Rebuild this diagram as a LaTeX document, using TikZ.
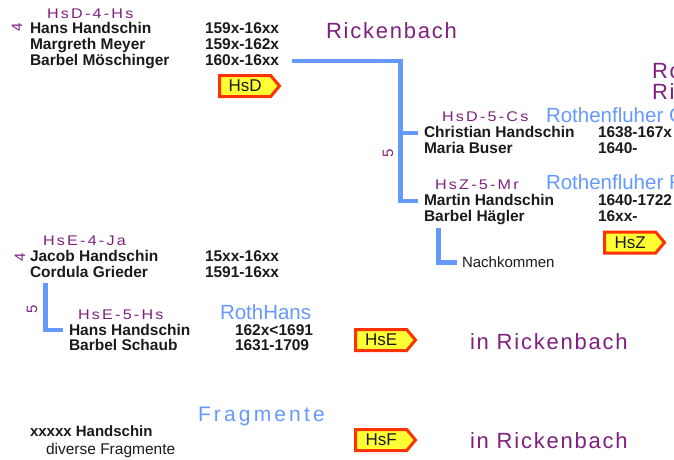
\documentclass[tikz,border=0pt]{standalone}
\usepackage{fontspec}
\usepackage{graphicx}
\setmainfont{Liberation Sans}
\newfontfamily\labfont[LetterSpace=14]{Liberation Sans}
\newfontfamily\wfont[LetterSpace=8]{Liberation Sans}
\newfontfamily\wwfont[LetterSpace=15]{Liberation Sans}
\newcommand\codetxt[1]{\scalebox{1.15}[1]{#1}}
\usetikzlibrary{shapes.symbols}
\definecolor{lila}{HTML}{7F1F7F}
\definecolor{lblue}{HTML}{6699FF}
\definecolor{tagred}{HTML}{FF3300}
\definecolor{tagyel}{HTML}{FFFF33}
\definecolor{ink}{HTML}{1A1A1A}
\tikzset{
  every node/.style={inner sep=0pt, outer sep=0pt, anchor=base west},
  pname/.style={font=\fontsize{15.5}{16}\selectfont\bfseries, text=ink},
  pcode/.style={font=\labfont\fontsize{14}{14}\selectfont, text=lila},
  pgen/.style={font=\fontsize{15}{15}\selectfont, text=lila, rotate=90, anchor=center},
  pplace/.style={font=\wfont\fontsize{22}{22}\selectfont, text=lila},
  pbranch/.style={font=\fontsize{20.5}{22}\selectfont, text=lblue},
  pbranchw/.style={font=\wwfont\fontsize{21}{22}\selectfont, text=lblue},
  ptext/.style={font=\fontsize{15}{16}\selectfont, text=ink},
  tagbox/.style={shape=signal, signal to=east, signal pointer angle=100,
    draw=tagred, line width=3pt, fill=tagyel, anchor=west,
    minimum width=60pt, minimum height=21pt, inner sep=0pt,
    font=\fontsize{17}{17}\selectfont, text=ink},
  conn/.style={draw=lblue, line width=4.5pt}
}
\begin{document}
\begin{tikzpicture}[x=1pt,y=-1pt]
\useasboundingbox (0,0) rectangle (674,459);
% --- HsD-4 block
\node[pcode] (cHsD4) at (47,18) {\codetxt{HsD-4-Hs}};
\node[pgen] (g1) at (17,27) {4};
\node[pname] (n1) at (30,33) {Hans Handschin};
\node[pname] (n2) at (30,49) {Margreth Meyer};
\node[pname] (n3) at (30,65) {Barbel Möschinger};
\node[pname] (d1) at (205,33) {159x-16xx};
\node[pname] (d2) at (205,49) {159x-162x};
\node[pname] (d3) at (205,65) {160x-16xx};
\node[tagbox] (tHsD) at (219.5,86) {HsD\hspace{6pt}};
\node[pplace] (rick) at (326,38.5) {Rickenbach};
% --- right top
\node[pplace] (ro) at (652,78) {Ro};
\node[pplace] (ri) at (652,99) {Ri};
\node[pcode] (cCs) at (442,121.5) {\codetxt{HsD-5-Cs}};
\node[pbranch] (rf1) at (546,122) {Rothenfluher G};
\node[pname] (n4) at (424,137) {Christian Handschin};
\node[pname] (n5) at (424,153) {Maria Buser};
\node[pname] (d4) at (598,137) {1638-167x};
\node[pname] (d5) at (598,153) {1640-};
\node[pgen] (g2) at (388,153) {5};
\node[pcode] (cMr) at (435,189.5) {\codetxt{HsZ-5-Mr}};
\node[pbranch] (rf2) at (546,189) {Rothenfluher R};
\node[pname] (n6) at (424,205) {Martin Handschin};
\node[pname] (n7) at (424,221) {Barbel Hägler};
\node[pname] (d6) at (598,205) {1640-1722};
\node[pname] (d7) at (598,221) {16xx-};
\node[tagbox] (tHsZ) at (604.5,242.5) {HsZ\hspace{6pt}};
\node[ptext] (nach) at (462,267) {Nachkommen};
% connectors HsD
\coordinate (a0) at (292,61);
\coordinate (a1) at (400.5,61);
\coordinate (a2) at (400.5,133);
\coordinate (a3) at (400.5,201);
\coordinate (b1) at (418,133);
\coordinate (b2) at (418,201);
\draw[conn] (a0) -- (a1) -- (a3) -- (b2);
\draw[conn] (a2) -- (b1);
\coordinate (c1) at (438.5,228);
\coordinate (c2) at (438.5,262.5);
\coordinate (c3) at (457,262.5);
\draw[conn] (c1) -- (c2) -- (c3);
% --- HsE block
\node[pcode] (cJa) at (43,245) {\codetxt{HsE-4-Ja}};
\node[pgen] (g3) at (20,257) {4};
\node[pname] (n8) at (30,261) {Jacob Handschin};
\node[pname] (n9) at (30,277) {Cordula Grieder};
\node[pname] (d8) at (205,261) {15xx-16xx};
\node[pname] (d9) at (205,277) {1591-16xx};
\node[pgen] (g4) at (32,309) {5};
\node[pcode] (cHs) at (78,319) {\codetxt{HsE-5-Hs}};
\node[pbranch] (rh) at (220,319) {RothHans};
\node[pname] (n10) at (69,335) {Hans Handschin};
\node[pname] (n11) at (69,350) {Barbel Schaub};
\node[pname] (d10) at (235,335) {162x<1691};
\node[pname] (d11) at (235,350) {1631-1709};
\coordinate (e1) at (45.5,283);
\coordinate (e2) at (45.5,330);
\coordinate (e3) at (63,330);
\draw[conn] (e1) -- (e2) -- (e3);
\node[tagbox] (tHsE) at (355.5,340) {HsE\hspace{6pt}};
\node[pplace] (ir1) at (470,349) {in Rickenbach};
% --- Fragmente
\node[pbranchw] (frag) at (198,421) {Fragmente};
\node[pname, font=\fontsize{15}{16}\selectfont\bfseries] (n12) at (30,436) {xxxxx Handschin};
\node[ptext, font=\fontsize{15.5}{16}\selectfont] (n13) at (46,454) {diverse Fragmente};
\node[tagbox] (tHsF) at (355.5,440) {HsF\hspace{6pt}};
\node[pplace] (ir2) at (470,448) {in Rickenbach};
\end{tikzpicture}
\end{document}
